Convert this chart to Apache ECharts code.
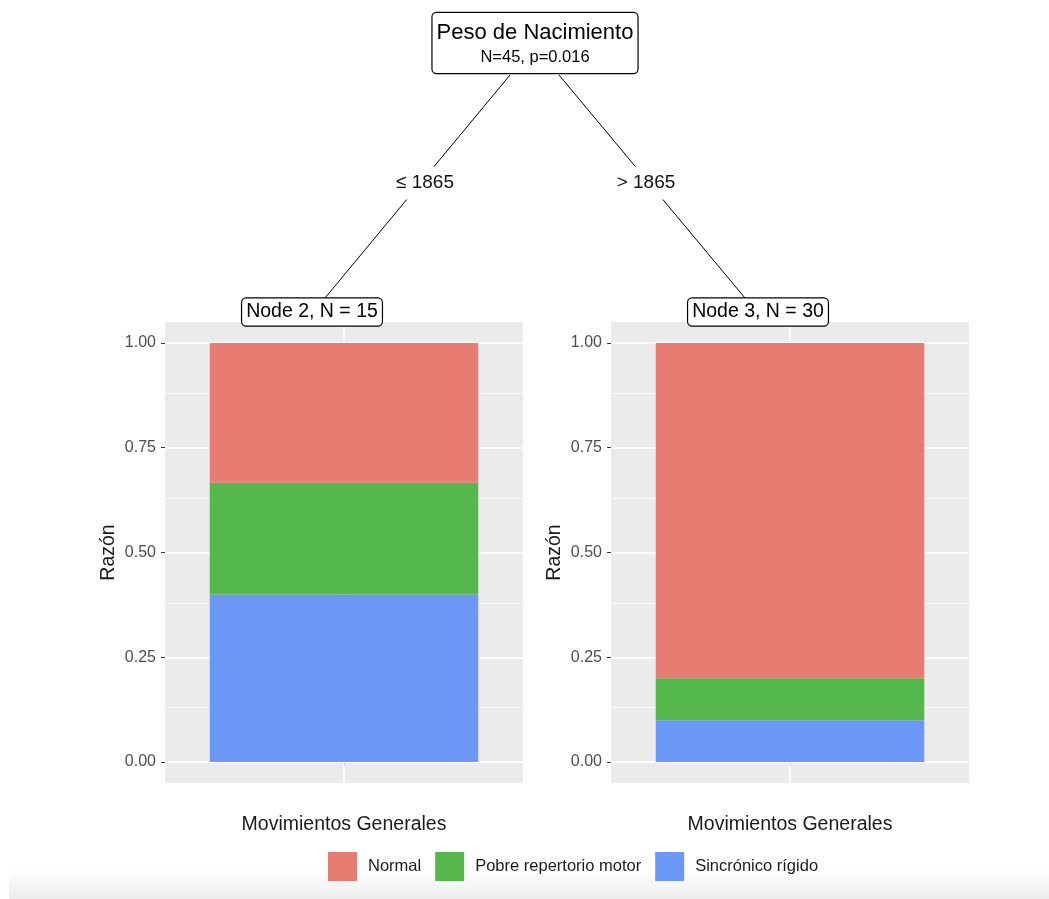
<!DOCTYPE html>
<html>
<head>
<meta charset="utf-8">
<script src="https://cdn.jsdelivr.net/npm/echarts@6/dist/echarts.min.js"></script>
<style>
  html, body { margin: 0; padding: 0; background: #fff; }
  #chart { width: 1049px; height: 899px; }
</style>
</head>
<body>
<div id="chart"></div>
<script>
// Classes of the response (legend order) and their fill colours
const classes = ['Normal', 'Pobre repertorio motor', 'Sincrónico rígido'];
const classColors = ['#E77C72', '#54B84C', '#6B98F5'];

// Terminal node counts per class (same order as classes)
const node2Counts = [5, 4, 6];
const node3Counts = [24, 3, 3];

// Tree structure text
const rootTitle = 'Peso de Nacimiento';
const rootStats = 'N=45, p=0.016';
const splitLabels = ['≤ 1865', '> 1865'];
const nodeIds = [2, 3];

// Axis ticks
const yMajor = [0, 0.25, 0.5, 0.75, 1];
const yMinor = [0.125, 0.375, 0.625, 0.875];
const xCategory = ['Movimientos Generales'];

const FONT = 'Liberation Sans, Arial';
const chart = echarts.init(document.getElementById('chart'));

const panels = [
  { left: 165, counts: node2Counts },
  { left: 611, counts: node3Counts }
];
const panelTop = 322, panelHeight = 461, panelWidth = 358;

const grids = [], xAxes = [], yAxes = [], series = [];
panels.forEach((p, i) => {
  const total = p.counts.reduce((a, b) => a + b, 0);
  grids.push({
    left: p.left, top: panelTop, width: panelWidth, height: panelHeight,
    show: true, backgroundColor: '#EBEBEB', borderWidth: 0
  });
  xAxes.push({
    type: 'category', gridIndex: i, data: xCategory,
    axisLine: { show: false },
    axisTick: { show: true, alignWithLabel: true, length: 4, lineStyle: { color: '#333333' } },
    axisLabel: { show: false },
    splitLine: { show: false },
    name: 'Movimientos Generales', nameLocation: 'middle', nameGap: 32,
    nameTextStyle: { fontFamily: FONT, fontSize: 19.5, color: '#1a1a1a' }
  });
  yAxes.push({
    type: 'value', gridIndex: i, min: -0.05, max: 1.05,
    axisLine: { show: false },
    axisTick: { show: true, length: 4, customValues: yMajor, lineStyle: { color: '#333333' } },
    axisLabel: {
      customValues: yMajor, margin: 9,
      formatter: v => v.toFixed(2),
      fontFamily: FONT, fontSize: 16, color: '#4D4D4D'
    },
    splitLine: { show: false },
    name: 'Razón', nameLocation: 'middle', nameRotate: 90, nameGap: 46,
    nameTextStyle: { fontFamily: FONT, fontSize: 19.5, color: '#1a1a1a' }
  });
  // Panel grid lines, drawn beneath the bars
  series.push({
    type: 'line', xAxisIndex: i, yAxisIndex: i, data: [], silent: true,
    markLine: {
      silent: true, symbol: 'none', z: 1, animation: false,
      label: { show: false },
      data: [
        ...yMinor.map(v => ({ yAxis: v, lineStyle: { color: '#FFFFFF', width: 0.8, type: 'solid' } })),
        ...yMajor.map(v => ({ yAxis: v, lineStyle: { color: '#FFFFFF', width: 1.6, type: 'solid' } })),
        { xAxis: 0, lineStyle: { color: '#FFFFFF', width: 1.6, type: 'solid' } }
      ]
    }
  });
  // Stacked proportions: bottom to top is Sincrónico, Pobre, Normal
  [2, 1, 0].forEach(k => {
    series.push({
      name: classes[k], type: 'bar', xAxisIndex: i, yAxisIndex: i,
      stack: 'node' + i, barWidth: '75%', z: 3,
      itemStyle: { color: classColors[k] },
      data: [p.counts[k] / total]
    });
  });
});

// Tree drawing: root box, edges, split labels, terminal node labels
const rootPos = [535, 43];
const nodePos = [[312, 312], [758, 312]];
const edges = [
  [[510, 75], [325, 298]],
  [[559, 75], [745, 298]]
];
const splitPos = [[425, 183], [646, 183]];

const graphics = [
  {
    type: 'rect', left: 9, top: 868, z: -10, silent: true,
    shape: { width: 1040, height: 31 },
    style: {
      fill: new echarts.graphic.LinearGradient(0, 0, 0, 1, [
        { offset: 0, color: '#FFFFFF' }, { offset: 1, color: '#EDEDED' }
      ])
    }
  }
];
edges.forEach(e => {
  graphics.push({
    type: 'line', z: 10, silent: true,
    shape: { x1: e[0][0], y1: e[0][1], x2: e[1][0], y2: e[1][1] },
    style: { stroke: '#000', lineWidth: 1 }
  });
});
splitLabels.forEach((s, i) => {
  graphics.push({
    type: 'text', x: splitPos[i][0], y: splitPos[i][1], z: 11, silent: true,
    style: {
      text: s, align: 'center', verticalAlign: 'middle',
      font: '19px "Liberation Sans", Arial', fill: '#111',
      backgroundColor: '#FFFFFF', padding: [7, 3]
    }
  });
});
graphics.push({
  type: 'text', x: rootPos[0], y: rootPos[1], z: 12, silent: true,
  style: {
    text: '{a|' + rootTitle + '}\n{b|' + rootStats + '}',
    align: 'center', verticalAlign: 'middle',
    backgroundColor: '#FFFFFF', borderColor: '#000', borderWidth: 1.2, borderRadius: 4,
    padding: [6, 4, 6, 4],
    rich: {
      a: { fontFamily: FONT, fontSize: 22, lineHeight: 28, fill: '#000', align: 'center' },
      b: { fontFamily: FONT, fontSize: 16.5, lineHeight: 20, fill: '#000', align: 'center' }
    }
  }
});
panels.forEach((p, i) => {
  const total = p.counts.reduce((a, b) => a + b, 0);
  graphics.push({
    type: 'text', x: nodePos[i][0], y: nodePos[i][1], z: 12, silent: true,
    style: {
      text: 'Node ' + nodeIds[i] + ', N = ' + total,
      align: 'center', verticalAlign: 'middle',
      font: '19.5px "Liberation Sans", Arial', fill: '#000',
      backgroundColor: '#FFFFFF', borderColor: '#000', borderWidth: 1.2, borderRadius: 4,
      padding: [4, 4, 3, 4]
    }
  });
});

chart.setOption({
  backgroundColor: '#FFFFFF',
  animation: false,
  grid: grids,
  xAxis: xAxes,
  yAxis: yAxes,
  legend: {
    data: classes,
    left: 328, top: 852, padding: 0,
    orient: 'horizontal',
    itemWidth: 29, itemHeight: 29, itemGap: 14,
    icon: 'rect',
    textStyle: { fontFamily: FONT, fontSize: 16.5, color: '#1a1a1a', padding: [0, 0, 0, 6] }
  },
  series: series,
  graphic: graphics
});
</script>
</body>
</html>
